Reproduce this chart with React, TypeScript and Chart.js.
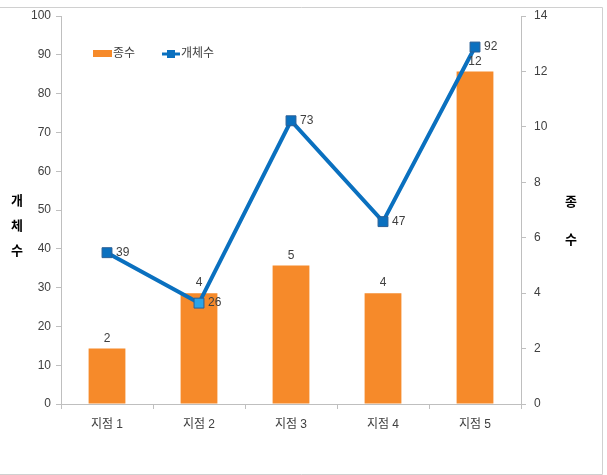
import React, { useEffect, useRef } from "react";
import { Chart, registerables } from "chart.js";

Chart.register(...registerables);

const categories = ["지점 1", "지점 2", "지점 3", "지점 4", "지점 5"];
const speciesCounts = [2, 4, 5, 4, 12];
const individualCounts = [39, 26, 73, 47, 92];
const leftTitle = ["개", "체", "수"];
const rightTitle = ["종", "수"];
const legendLabels = ["종수", "개체수"];

const BAR_COLOR = "#f68a2a";
const LINE_COLOR = "#0a70bf";
const FONT = '"Liberation Sans", "Noto Sans CJK KR", sans-serif';

const overlayPlugin = {
  id: "overlay",
  afterDatasetsDraw(chart: any) {
    const ctx = chart.ctx;
    ctx.save();
    ctx.font = `12px ${FONT}`;
    ctx.fillStyle = "#404040";
    const barMeta = chart.getDatasetMeta(0);
    barMeta.data.forEach((el: any, i: number) => {
      ctx.textAlign = "center";
      ctx.textBaseline = "middle";
      ctx.fillText(String(speciesCounts[i]), el.x, el.y - 10);
    });
    const lineMeta = chart.getDatasetMeta(1);
    lineMeta.data.forEach((el: any, i: number) => {
      ctx.textAlign = "left";
      ctx.textBaseline = "middle";
      ctx.fillText(String(individualCounts[i]), el.x + 9, el.y);
    });
    ctx.restore();
  },
  afterDraw(chart: any) {
    const ctx = chart.ctx;
    ctx.save();
    ctx.strokeStyle = "#d0d0d0";
    ctx.lineWidth = 1;
    ctx.beginPath();
    ctx.moveTo(0, 7.5);
    ctx.lineTo(602.5, 7.5);
    ctx.lineTo(602.5, 474.5);
    ctx.lineTo(0, 474.5);
    ctx.stroke();
    ctx.font = `bold 13px ${FONT}`;
    ctx.fillStyle = "#000";
    ctx.textAlign = "center";
    ctx.textBaseline = "middle";
    leftTitle.forEach((t, i) => ctx.fillText(t, 17, 201 + i * 25));
    rightTitle.forEach((t, i) => ctx.fillText(t, 571, 202 + i * 38));
    ctx.font = `12px ${FONT}`;
    ctx.fillStyle = BAR_COLOR;
    ctx.fillRect(93, 50, 19, 7);
    ctx.fillStyle = "#404040";
    ctx.textAlign = "left";
    ctx.fillText(legendLabels[0], 113, 54);
    ctx.strokeStyle = LINE_COLOR;
    ctx.lineWidth = 3;
    ctx.beginPath();
    ctx.moveTo(162, 54);
    ctx.lineTo(180, 54);
    ctx.stroke();
    ctx.fillStyle = LINE_COLOR;
    ctx.fillRect(167, 50, 8, 8);
    ctx.fillStyle = "#404040";
    ctx.fillText(legendLabels[1], 181, 54);
    ctx.restore();
  },
};

export default function App() {
  const ref = useRef<HTMLCanvasElement>(null);
  useEffect(() => {
    if (!ref.current) return;
    const tickFont = { family: FONT, size: 12 };
    const chart = new Chart(ref.current, {
      type: "bar",
      data: {
        labels: categories,
        datasets: [
          {
            type: "bar",
            label: legendLabels[0],
            data: speciesCounts,
            backgroundColor: BAR_COLOR,
            yAxisID: "y1",
            categoryPercentage: 1,
            barPercentage: 0.4,
            order: 1,
          },
          {
            type: "line",
            label: legendLabels[1],
            data: individualCounts,
            borderColor: LINE_COLOR,
            borderWidth: 4,
            pointStyle: "rect",
            pointRadius: 7,
            pointBorderWidth: 1,
            pointBorderColor: "#2a5f96",
            pointBackgroundColor: [LINE_COLOR, "#2aa4e8", LINE_COLOR, LINE_COLOR, LINE_COLOR],
            yAxisID: "y",
            order: 0,
          } as any,
        ],
      },
      options: {
        animation: false,
        responsive: true,
        maintainAspectRatio: false,
        layout: { padding: { top: 16, left: 0, right: 0, bottom: 0 } },
        plugins: { legend: { display: false }, tooltip: { enabled: false } },
        scales: {
          x: {
            offset: true,
            grid: { drawOnChartArea: false, offset: true, tickLength: 5, color: "#bfbfbf" },
            border: { color: "#bfbfbf" },
            ticks: { font: tickFont, color: "#404040", padding: 8 },
            afterFit: (s: any) => { s.height = 71; },
          },
          y: {
            position: "left",
            min: 0,
            max: 100,
            ticks: { stepSize: 10, font: tickFont, color: "#404040", padding: 5 },
            grid: { drawOnChartArea: false, tickLength: 5, color: "#bfbfbf" },
            border: { color: "#bfbfbf" },
            afterFit: (s: any) => { s.width = 61; },
          },
          y1: {
            position: "right",
            min: 0,
            max: 14,
            ticks: { stepSize: 2, font: tickFont, color: "#404040", padding: 8 },
            grid: { drawOnChartArea: false, tickLength: 5, color: "#bfbfbf" },
            border: { color: "#bfbfbf" },
            afterFit: (s: any) => { s.width = 86; },
          },
        },
      },
      plugins: [overlayPlugin],
    });
    return () => chart.destroy();
  }, []);
  return (
    <div style={{ position: "absolute", left: 0, top: 0, width: 607, height: 475 }}>
      <canvas ref={ref} />
    </div>
  );
}
